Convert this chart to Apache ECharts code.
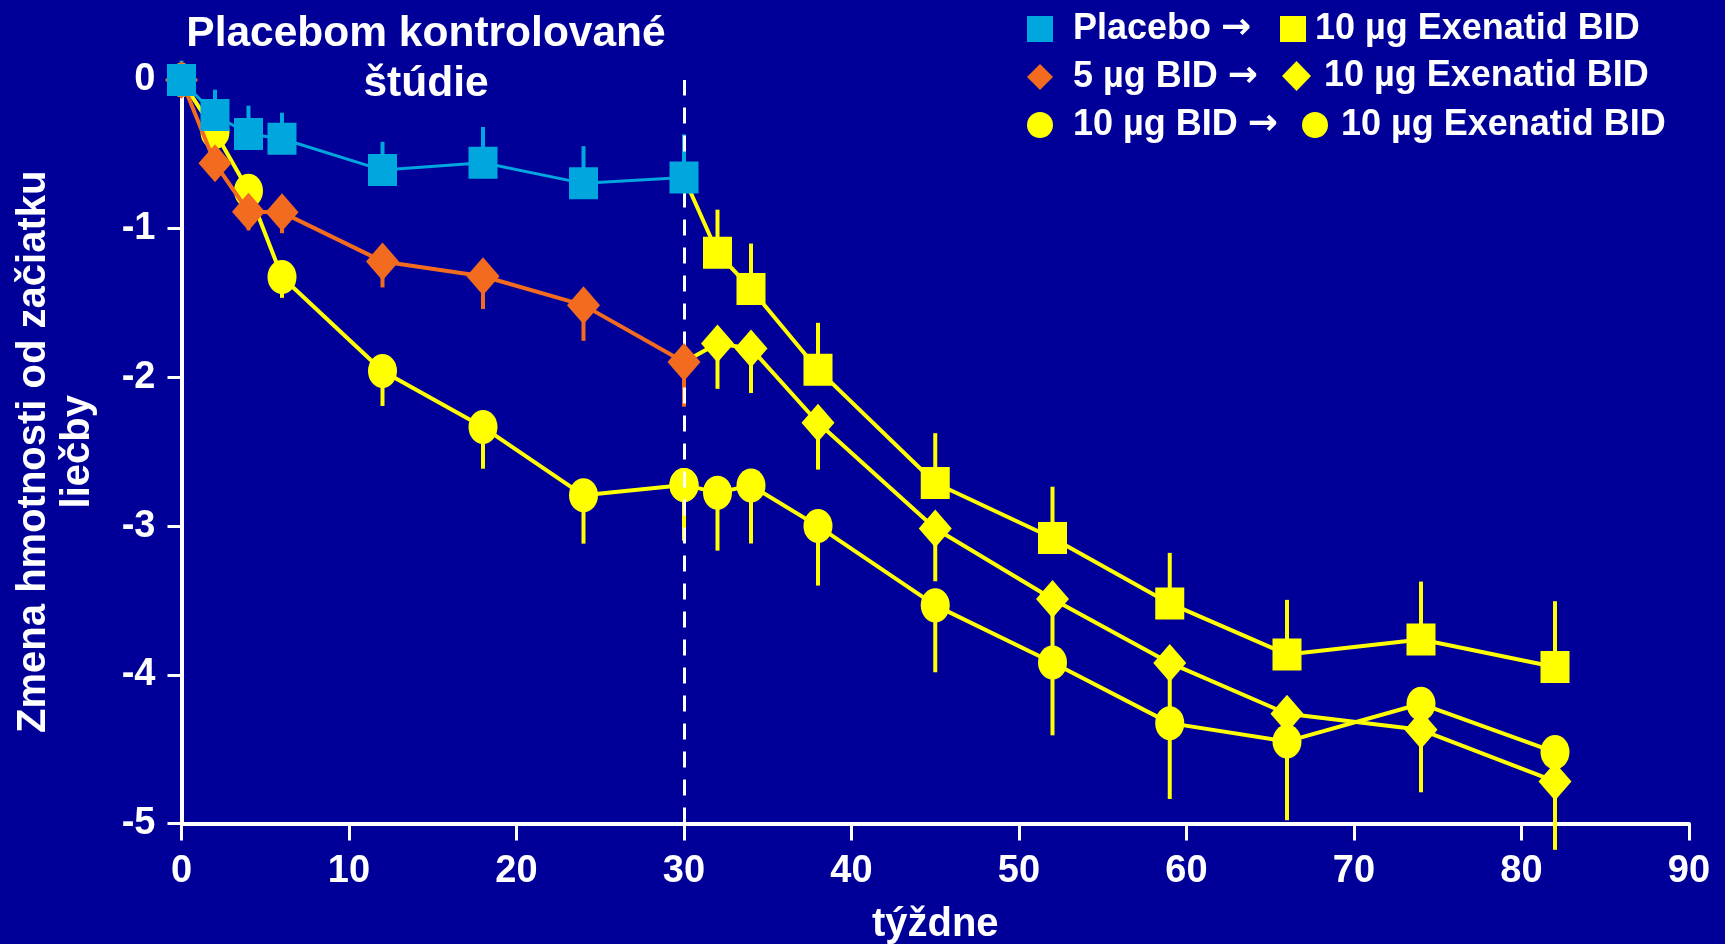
<!DOCTYPE html>
<html>
<head>
<meta charset="utf-8">
<script src="https://cdn.jsdelivr.net/npm/echarts@6/dist/echarts.min.js"></script>
<style>
html,body{margin:0;padding:0;background:#000099;}
#chart{width:1725px;height:944px;}
</style>
</head>
<body>
<div id="chart"></div>
<script>
// ---- data ----
const weeksA = [0, 2, 4, 6, 12, 18, 24, 30];
const placebo = [0, -0.235, -0.363, -0.395, -0.606, -0.556, -0.695, -0.656];
const placeboErr = [0.13, 0.17, 0.19, 0.175, 0.19, 0.24, 0.25, 0.29];
const bid5 = [0, -0.56, -0.886, -0.89, -1.22, -1.32, -1.514, -1.897];
const bid5Err = [0, 0.08, 0.125, 0.14, 0.175, 0.22, 0.24, 0.30];
const bid10 = [0, -0.35, -0.745, -1.325, -1.957, -2.334, -2.793, -2.723];
const bid10Err = [0, 0.08, 0.08, 0.14, 0.235, 0.28, 0.325, 0.375];

const weeksB = [30, 32, 34, 38, 45, 52, 59, 66, 74, 82];
const extPlacebo = [-0.656, -1.162, -1.405, -1.948, -2.71, -3.08, -3.52, -3.863, -3.763, -3.948];
const extPlaceboErr = [0, 0.29, 0.305, 0.315, 0.335, 0.345, 0.34, 0.367, 0.39, 0.443];
const ext5 = [-1.897, -1.772, -1.805, -2.305, -3.016, -3.49, -3.92, -4.262, -4.37, -4.717];
const ext5Err = [0, 0.305, 0.30, 0.315, 0.355, 0.38, 0.40, 0.41, 0.42, 0.46];
const ext10 = [-2.723, -2.775, -2.727, -3.0, -3.533, -3.917, -4.325, -4.448, -4.195, -4.52];
const ext10Err = [0, 0.39, 0.39, 0.40, 0.45, 0.49, 0.51, 0.53, 0.55, 0.65];

const xTicks = [0, 10, 20, 30, 40, 50, 60, 70, 80, 90];
const yTicks = [0, -1, -2, -3, -4, -5];
const switchWeek = 30;

const names = {
  pl: 'Placebo', b5: '5 µg BID', b10: '10 µg BID',
  plX: 'Placebo → 10 µg Exenatid BID',
  b5X: '5 µg BID → 10 µg Exenatid BID',
  b10X: '10 µg BID → 10 µg Exenatid BID'
};
const afterLabel = '10 µg Exenatid BID';

// ---- styles ----
const BG = '#000099', CYAN = '#00A6DE', ORANGE = '#F26B1F', YELLOW = '#FFFF00', WHITE = '#FFFFFF';
const FONT = "'Liberation Sans', Arial, sans-serif";

function pairs(xs, ys) { return xs.map((x, i) => [x, ys[i]]); }
function errData(xs, ys, es) { return xs.map((x, i) => [x, ys[i], es[i]]); }

function errSeries(name, xs, ys, es, dir, color, z) {
  return {
    name: name, type: 'custom', z: z, silent: true, clip: false,
    data: errData(xs, ys, es),
    encode: { x: 0, y: 1 },
    renderItem: function (params, api) {
      const x = api.value(0), y = api.value(1), e = api.value(2);
      if (!e) return null;
      const p1 = api.coord([x, y]);
      const p2 = api.coord([x, y + dir * e]);
      return {
        type: 'line',
        shape: { x1: p1[0], y1: p1[1], x2: p2[0], y2: p2[1] },
        style: { stroke: color, lineWidth: 4 }
      };
    }
  };
}

function lineSeries(name, data, color, symbol, size, lw, z) {
  return {
    name: name, type: 'line', z: z, data: data,
    symbol: symbol, symbolSize: size, showSymbol: true,
    lineStyle: { color: color, width: lw },
    itemStyle: { color: color },
    emphasis: { disabled: true }, animation: false
  };
}

const SQ = [29, 32], CI = [29, 34], DI = [33, 38];

const extPlData = pairs(weeksB, extPlacebo).map((p, i) => i === 0 ? { value: p, symbol: 'none' } : p);
const ext5Data = pairs(weeksB, ext5).map((p, i) => i === 0 ? { value: p, symbol: 'none' } : p);

const legendText = { color: WHITE, fontSize: 36, fontWeight: 'bold', fontFamily: FONT };

const option = {
  backgroundColor: BG,
  animation: false,
  title: {
    text: 'Placebom kontrolované\nštúdie',
    left: 421, top: 4, textAlign: 'center',
    textStyle: { color: WHITE, fontSize: 42.5, fontWeight: 'bold', fontFamily: FONT, lineHeight: 50 }
  },
  grid: { left: 181.5, right: 36, top: 80, bottom: 120.5, containLabel: false, outerBoundsMode: 'none' },
  legend: [
    {
      orient: 'vertical', left: 1022, top: 6, itemWidth: 26, itemHeight: 26, itemGap: 12,
      selectedMode: false,
      data: [{ name: names.pl, icon: 'rect' }, { name: names.b5, icon: 'diamond' }, { name: names.b10, icon: 'circle' }],
      formatter: function (n) { return n + ' {a|→}'; },
      textStyle: Object.assign({
        padding: [0, 0, 0, 15],
        rich: { a: { color: WHITE, fontSize: 36, fontWeight: 'bold', fontFamily: "'DejaVu Sans', sans-serif" } }
      }, legendText)
    },
    {
      left: 1275, top: 6, itemWidth: 26, itemHeight: 26, selectedMode: false,
      data: [{ name: names.plX, icon: 'rect' }],
      formatter: function () { return afterLabel; },
      textStyle: Object.assign({ padding: [0, 0, 0, 4] }, legendText)
    },
    {
      left: 1277, top: 53, itemWidth: 29, itemHeight: 30, selectedMode: false,
      data: [{ name: names.b5X, icon: 'diamond' }],
      formatter: function () { return afterLabel; },
      textStyle: Object.assign({ padding: [0, 0, 0, 8] }, legendText)
    },
    {
      left: 1297, top: 102, itemWidth: 26, itemHeight: 27, selectedMode: false,
      data: [{ name: names.b10X, icon: 'circle' }],
      formatter: function () { return afterLabel; },
      textStyle: Object.assign({ padding: [0, 0, 0, 8] }, legendText)
    }
  ],
  xAxis: {
    type: 'value', min: xTicks[0], max: xTicks[xTicks.length - 1], interval: 10,
    axisLine: { show: true, onZero: false, lineStyle: { color: WHITE, width: 4 } },
    axisTick: { show: true, length: 17, lineStyle: { color: WHITE, width: 3 } },
    splitLine: { show: false },
    axisLabel: { color: WHITE, fontSize: 38, fontWeight: 'bold', fontFamily: FONT, margin: 29 },
    name: 'týždne', nameLocation: 'middle', nameGap: 81,
    nameTextStyle: { color: WHITE, fontSize: 40, fontWeight: 'bold', fontFamily: FONT }
  },
  yAxis: {
    type: 'value', min: yTicks[yTicks.length - 1], max: yTicks[0], interval: 1,
    axisLine: { show: true, onZero: false, lineStyle: { color: WHITE, width: 4 } },
    axisTick: { show: true, length: 14, lineStyle: { color: WHITE, width: 3 } },
    splitLine: { show: false },
    axisLabel: { color: WHITE, fontSize: 38, fontWeight: 'bold', fontFamily: FONT, margin: 26 },
    name: 'Zmena hmotnosti od začiatku\nliečby', nameLocation: 'middle', nameRotate: 90, nameGap: 81.5,
    nameTextStyle: { color: WHITE, fontSize: 40, fontWeight: 'bold', fontFamily: FONT, lineHeight: 44, align: 'center' }
  },
  series: [
    {
      name: 'ref', type: 'line', data: [], z: 1, silent: true,
      markLine: {
        silent: true, symbol: 'none', label: { show: false },
        lineStyle: { color: WHITE, width: 3, type: [16, 12] },
        data: [{ xAxis: switchWeek }]
      }
    },
    errSeries('e10', weeksA, bid10, bid10Err, -1, YELLOW, 2),
    errSeries('e5', weeksA, bid5, bid5Err, -1, ORANGE, 2),
    errSeries('epl', weeksA, placebo, placeboErr, 1, CYAN, 2),
    errSeries('eplX', weeksB, extPlacebo, extPlaceboErr, 1, YELLOW, 2),
    errSeries('e5X', weeksB, ext5, ext5Err, -1, YELLOW, 2),
    errSeries('e10X', weeksB, ext10, ext10Err, -1, YELLOW, 2),
    lineSeries(names.b10X, pairs(weeksB, ext10), YELLOW, 'circle', CI, 4, 3),
    lineSeries(names.b5X, ext5Data, YELLOW, 'diamond', DI, 4, 3),
    lineSeries(names.plX, extPlData, YELLOW, 'rect', SQ, 4, 3),
    lineSeries(names.b10, pairs(weeksA, bid10), YELLOW, 'circle', CI, 4, 4),
    lineSeries(names.b5, pairs(weeksA, bid5), ORANGE, 'diamond', DI, 4, 5),
    lineSeries(names.pl, pairs(weeksA, placebo), CYAN, 'rect', SQ, 3, 6)
  ]
};

const chart = echarts.init(document.getElementById('chart'), null, { renderer: 'canvas' });
chart.setOption(option);
</script>
</body>
</html>
